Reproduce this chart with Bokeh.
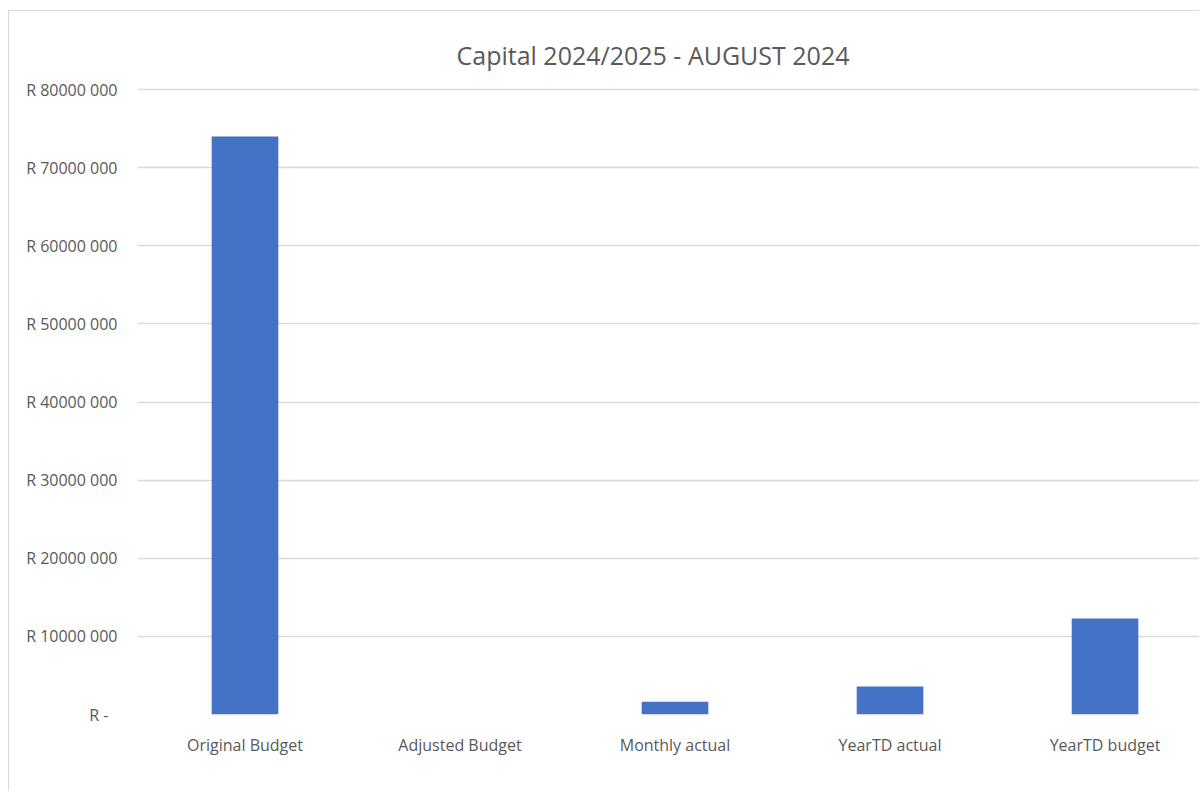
from bokeh.plotting import figure
from bokeh.models import Range1d, FixedTicker, ColumnDataSource
from bokeh.embed import file_html
from bokeh.resources import INLINE

categories = ["Original Budget", "Adjusted Budget", "Monthly actual", "YearTD actual", "YearTD budget"]
values = [74000000, 0, 1630000, 3580000, 12290000]
y_ticks = [0, 10000000, 20000000, 30000000, 40000000, 50000000, 60000000, 70000000, 80000000]
y_tick_labels = ["R -\u2007", "R 10000 000", "R 20000 000", "R 30000 000", "R 40000 000",
                 "R 50000 000", "R 60000 000", "R 70000 000", "R 80000 000"]

xs = [i + 0.5 for i in range(len(categories))]
src = ColumnDataSource(dict(x=xs, top=values, cat=categories))

p = figure(width=1191, height=781, output_backend="svg", toolbar_location=None,
           x_range=Range1d(0, 4.944), y_range=Range1d(0, 80256000),
           min_border_left=128, min_border_right=0, min_border_top=76, min_border_bottom=78,
           title="Capital 2024/2025 - AUGUST 2024")
p.margin = (10, 0, 0, 8)
p.styles = {"border-top": "1px solid #d9d9d9", "border-left": "1px solid #d9d9d9"}

p.vbar(x="x", top="top", width=0.31, bottom=0, source=src,
       fill_color="#4472C4", line_color="#4472C4", line_alpha=0.0)

p.title.align = "left"
p.title.offset = 319
p.title.text_font = "Open Sans"
p.title.text_font_size = "25px"
p.title.text_font_style = "normal"
p.title.text_color = "#595959"
p.title.standoff = 32

p.outline_line_color = None
p.xgrid.grid_line_color = None
p.ygrid.grid_line_color = "#d9d9d9"
p.ygrid.grid_line_width = 1.5

p.yaxis.ticker = FixedTicker(ticks=y_ticks)
p.yaxis.major_label_overrides = {t: l for t, l in zip(y_ticks, y_tick_labels)}
p.xaxis.ticker = FixedTicker(ticks=xs)
p.xaxis.major_label_overrides = {x: c for x, c in zip(xs, categories)}

for ax in (p.xaxis[0], p.yaxis[0]):
    ax.axis_line_color = None
    ax.major_tick_line_color = None
    ax.minor_tick_line_color = None
    ax.major_label_text_font = "Open Sans"
    ax.major_label_text_font_size = "16px"
    ax.major_label_text_color = "#595959"
p.yaxis.major_label_standoff = 14
p.xaxis.major_label_standoff = 13

open("out.html", "w").write(file_html(p, INLINE))
